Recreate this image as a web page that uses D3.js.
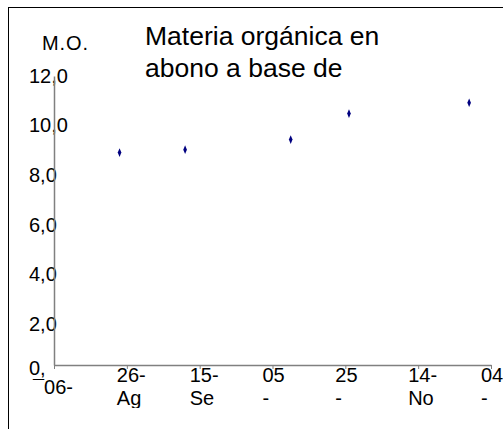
<!DOCTYPE html>
<html>
<head>
<meta charset="utf-8">
<script src="https://cdn.jsdelivr.net/npm/d3@7"></script>
<style>
  body { margin: 0; background: #fff; }
  svg { display: block; font-family: "Liberation Sans", Arial, sans-serif; }
</style>
</head>
<body>
<div id="chart"></div>
<script>
const parse = d3.timeParse("%Y-%m-%d");

// sampling dates and organic matter values
const sampleDates = ["2008-08-24", "2008-09-11", "2008-10-10", "2008-10-26", "2008-11-28"];
const moValues = [8.82, 8.94, 9.36, 10.44, 10.89];

// axis ticks, as they show up (labels are cut off by the plot box)
const xTickDates = ["2008-08-06", "2008-08-26", "2008-09-15", "2008-10-05", "2008-10-25", "2008-11-14", "2008-12-04"];
const xTickLine1 = ["", "26-", "15-", "05", "25", "14-", "04"];
const xTickLine2 = ["\u00AF06-", "Ag", "Se", "-", "-", "No", "-"];
const yTicks = [0, 2, 4, 6, 8, 10, 12];
const yTickLabels = ["0,", "2,0", "4,0", "6,0", "8,0", "10,0", "12,0"];

const titleLines = ["Materia orgánica en", "abono a base de"];
const yTitle = "M.O.";

const width = 503;
const height = 429;

const svg = d3.select("#chart")
  .append("svg")
  .attr("width", width)
  .attr("height", height);

// outer chart frame (runs past the window on right and bottom)
svg.append("rect")
  .attr("x", 8.5)
  .attr("y", 7.5)
  .attr("width", 600)
  .attr("height", 600)
  .attr("fill", "none")
  .attr("stroke", "#000")
  .attr("stroke-width", 1);

const xScale = d3.scaleTime()
  .domain([parse(xTickDates[0]), parse(xTickDates[xTickDates.length - 1])])
  .range([54, 491]);

const yScale = d3.scaleLinear()
  .domain([0, 12])
  .range([365, 76]);

const defs = svg.append("defs");
defs.append("clipPath").attr("id", "titleClip")
  .append("rect").attr("x", 0).attr("y", 0).attr("width", width).attr("height", 77);
defs.append("clipPath").attr("id", "xLabelClip")
  .append("rect").attr("x", 0).attr("y", 360).attr("width", width).attr("height", 48);

// title, second line cut by its box
const title = svg.append("g").attr("clip-path", "url(#titleClip)");
title.selectAll("text")
  .data(titleLines)
  .join("text")
  .attr("x", 145)
  .attr("y", (d, i) => 45 + i * 32)
  .attr("font-size", "26.5px")
  .attr("fill", "#000")
  .text((d) => d);

// y axis title
svg.append("text")
  .attr("x", 42)
  .attr("y", 50)
  .attr("font-size", "20px")
  .attr("textLength", 46)
  .attr("fill", "#000")
  .text(yTitle);

// y tick labels: left aligned, drawn under the axis line
svg.append("g")
  .selectAll("text")
  .data(yTicks)
  .join("text")
  .attr("x", 29)
  .attr("y", (d) => d === 0 ? yScale(d) + 10 : yScale(d) + 6.7 + (12 - d) * 0.72)
  .attr("font-size", "20px")
  .attr("fill", "#000")
  .text((d, i) => yTickLabels[i]);

// x tick labels, two lines each
const xLabels = svg.append("g").attr("clip-path", "url(#xLabelClip)");
const xLab = xLabels.selectAll("g")
  .data(xTickDates)
  .join("g")
  .attr("transform", (d) => `translate(${xScale(parse(d))}, 0)`);
xLab.append("text")
  .attr("x", -10)
  .attr("y", 381.7)
  .attr("font-size", "20px")
  .attr("fill", "#000")
  .text((d, i) => xTickLine1[i]);
xLab.append("text")
  .attr("x", (d, i) => i === 0 ? -21 : -10)
  .attr("y", (d, i) => i === 0 ? 394 : 405)
  .attr("font-size", "20px")
  .attr("fill", "#000")
  .text((d, i) => xTickLine2[i]);

// axes
const yAxis = svg.append("g")
  .attr("transform", `translate(${xScale.range()[0]}, 0)`)
  .call(d3.axisLeft(yScale).tickValues(yTicks).tickSize(0).tickFormat(""));
yAxis.select(".domain").attr("stroke", "#808080").attr("stroke-width", 1.5);

const xAxis = svg.append("g")
  .attr("transform", `translate(0, ${yScale(0)})`)
  .call(d3.axisBottom(xScale)
    .tickValues(xTickDates.map(parse))
    .tickSizeInner(4)
    .tickSizeOuter(0)
    .tickFormat(""));
xAxis.select(".domain").attr("stroke", "#808080").attr("stroke-width", 1.5);
xAxis.selectAll(".tick line").attr("stroke", "#808080").attr("stroke-width", 1);

// data markers: small navy diamonds
const diamond = d3.symbol().type(d3.symbolDiamond).size(18);
svg.append("g")
  .selectAll("path")
  .data(sampleDates)
  .join("path")
  .attr("d", diamond)
  .attr("transform", (d, i) => `translate(${xScale(parse(d))}, ${yScale(moValues[i])}) scale(0.8, 1.1)`)
  .attr("fill", "#000080");
</script>
</body>
</html>
